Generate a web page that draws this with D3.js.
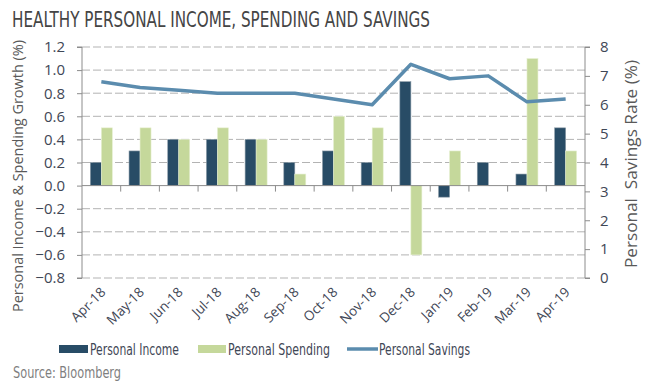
<!DOCTYPE html>
<html><head><meta charset="utf-8">
<script src="https://cdn.jsdelivr.net/npm/d3@7"></script>
<style>body{margin:0;background:#fff}svg{display:block}</style>
</head><body>
<svg id="c" width="651" height="387"></svg>
<script>
const categories = ["Apr-18","May-18","Jun-18","Jul-18","Aug-18","Sep-18","Oct-18","Nov-18","Dec-18","Jan-19","Feb-19","Mar-19","Apr-19"];
const income   = [0.2,0.3,0.4,0.4,0.4,0.2,0.3,0.2,0.9,-0.1,0.2,0.1,0.5];
const spending = [0.5,0.5,0.4,0.5,0.4,0.1,0.6,0.5,-0.6,0.3,0.0,1.1,0.3];
const savings  = [6.8,6.6,6.5,6.4,6.4,6.4,6.2,6.0,7.4,6.9,7.0,6.1,6.2];
const leftTicks = [-0.8,-0.6,-0.4,-0.2,0,0.2,0.4,0.6,0.8,1.0,1.2];
const rightTicks = [0,1,2,3,4,5,6,7,8];

const F = "'DejaVu Sans Condensed','Open Sans',sans-serif";
const F2 = "'Open Sans',sans-serif";
const svg = d3.select("#c");
const L = 82, R = 585, T = 47, B = 278;
const x = d3.scaleBand().domain(categories).range([L, R]);
const yL = d3.scaleLinear().domain([-0.8, 1.2]).range([B, T]);
const yR = d3.scaleLinear().domain([0, 8]).range([B, T]);
const textCol = "#3f4756";

// title
svg.append("text").attr("x", 12).attr("y", 27).attr("font-family", F).attr("font-size", 22)
  .attr("fill", "#454545").attr("textLength", 418).attr("lengthAdjust", "spacingAndGlyphs")
  .text("HEALTHY PERSONAL INCOME, SPENDING AND SAVINGS");

// gridlines
svg.append("g").selectAll("line").data(leftTicks.filter(d => d !== 0)).join("line")
  .attr("x1", L).attr("x2", R).attr("y1", d => yL(d)).attr("y2", d => yL(d))
  .attr("stroke", "#b3b3b3").attr("stroke-width", 1).attr("stroke-dasharray", "8,3");

// bars
const bw = 11;
svg.append("g").selectAll("rect").data(income).join("rect")
  .attr("x", (d, i) => x(categories[i]) + x.bandwidth() / 2 - bw)
  .attr("width", bw)
  .attr("y", d => Math.min(yL(d), yL(0)))
  .attr("height", d => Math.abs(yL(d) - yL(0)))
  .attr("fill", "#284c66").attr("stroke", "#8a9aa6").attr("stroke-width", 0.6);
svg.append("g").selectAll("rect").data(spending).join("rect")
  .attr("x", (d, i) => x(categories[i]) + x.bandwidth() / 2)
  .attr("width", bw)
  .attr("y", d => Math.min(yL(d), yL(0)))
  .attr("height", d => Math.abs(yL(d) - yL(0)))
  .attr("fill", "#c5d89b").attr("stroke", "#e6f0d2").attr("stroke-width", 0.6);

// zero line with category ticks
svg.append("line").attr("x1", L).attr("x2", R).attr("y1", yL(0)).attr("y2", yL(0))
  .attr("stroke", "#8c8c8c").attr("stroke-width", 1);
svg.append("g").selectAll("line").data(categories.slice(1)).join("line")
  .attr("x1", d => x(d)).attr("x2", d => x(d)).attr("y1", yL(0)).attr("y2", yL(0) + 6)
  .attr("stroke", "#8c8c8c");

// savings line
const line = d3.line().x((d, i) => x(categories[i]) + x.bandwidth() / 2).y(d => yR(d));
svg.append("path").datum(savings).attr("d", line).attr("fill", "none")
  .attr("stroke", "#5b8cae").attr("stroke-width", 3.5).attr("stroke-linejoin", "round");

// left axis
const gl = svg.append("g").attr("transform", `translate(${L},0)`)
  .call(d3.axisLeft(yL).tickValues(leftTicks).tickFormat(d3.format(".1f")).tickSize(5).tickPadding(12));
gl.select(".domain").attr("stroke", "#8c8c8c").attr("d", `M-5,${B}H0V${T}H-5`);
gl.selectAll(".tick line").attr("stroke", "#8c8c8c");
gl.selectAll("text").attr("font-family", F2).attr("font-size", 15).attr("fill", textCol);

// right axis
const gr = svg.append("g").attr("transform", `translate(${R},0)`)
  .call(d3.axisRight(yR).tickValues(rightTicks).tickSize(5).tickPadding(10));
gr.select(".domain").attr("stroke", "#8c8c8c").attr("d", `M5,${B}H0V${T}H5`);
gr.selectAll(".tick line").attr("stroke", "#8c8c8c");
gr.selectAll("text").attr("font-family", F2).attr("font-size", 15).attr("fill", textCol);

// x labels
svg.append("g").selectAll("text").data(categories).join("text")
  .attr("transform", d => `translate(${x(d) + x.bandwidth() / 2 + 5},${293}) rotate(-45)`)
  .attr("text-anchor", "end").attr("font-family", F2).attr("font-size", 13.5).attr("fill", textCol)
  .text(d => d);

// axis titles
svg.append("text").attr("transform", `translate(23,176) rotate(-90)`).attr("text-anchor", "middle")
  .attr("font-family", F2).attr("font-size", 15).attr("fill", "#595959")
  .attr("textLength", 272).attr("lengthAdjust", "spacingAndGlyphs")
  .text("Personal Income & Spending Growth (%)");
svg.append("text").attr("transform", `translate(637,164) rotate(-90)`).attr("text-anchor", "middle")
  .attr("font-family", F2).attr("font-size", 16).attr("fill", "#595959")
  .attr("textLength", 208).attr("lengthAdjust", "spacingAndGlyphs")
  .attr("xml:space", "preserve").style("white-space", "pre")
  .text("Personal  Savings Rate (%)");

// legend
const lg = svg.append("g");
lg.append("rect").attr("x", 59).attr("y", 345).attr("width", 29).attr("height", 8).attr("fill", "#284c66");
lg.append("text").attr("x", 90).attr("y", 355).attr("font-family", F).attr("font-size", 15.5).attr("fill", textCol)
  .attr("textLength", 89).attr("lengthAdjust", "spacingAndGlyphs").text("Personal Income");
lg.append("rect").attr("x", 198).attr("y", 345).attr("width", 28).attr("height", 8).attr("fill", "#c5d89b");
lg.append("text").attr("x", 228).attr("y", 355).attr("font-family", F).attr("font-size", 15.5).attr("fill", textCol)
  .attr("textLength", 102).attr("lengthAdjust", "spacingAndGlyphs").text("Personal Spending");
lg.append("line").attr("x1", 347).attr("x2", 378).attr("y1", 349).attr("y2", 349)
  .attr("stroke", "#5b8cae").attr("stroke-width", 3.5);
lg.append("text").attr("x", 379).attr("y", 355).attr("font-family", F).attr("font-size", 15.5).attr("fill", textCol)
  .attr("textLength", 91).attr("lengthAdjust", "spacingAndGlyphs").text("Personal Savings");

// source
svg.append("text").attr("x", 13).attr("y", 378).attr("font-family", F).attr("font-size", 15.5).attr("fill", "#7f7f7f")
  .attr("textLength", 108).attr("lengthAdjust", "spacingAndGlyphs").text("Source: Bloomberg");
</script>
</body></html>
